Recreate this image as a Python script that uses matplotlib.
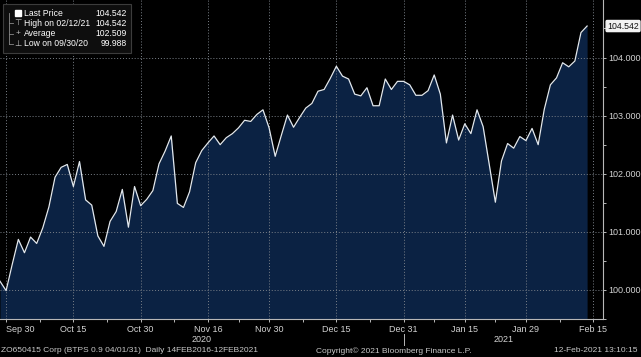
import matplotlib
matplotlib.use("Agg")
import matplotlib.pyplot as plt
from matplotlib import font_manager
from matplotlib.patches import Rectangle
from matplotlib.lines import Line2D
import numpy as np
import pandas as pd

# daily prices, BTPS 0.9 04/01/31, 29 Sep 2020 - 12 Feb 2021 (no Dec 25 / Jan 1)
prices = [100.15, 99.988, 100.44, 100.87, 100.64, 100.91, 100.80, 101.07, 101.43, 101.94,
          102.11, 102.16, 101.78, 102.21, 101.55, 101.46, 100.93, 100.75, 101.18, 101.35,
          101.73, 101.08, 101.78, 101.45, 101.56, 101.71, 102.17, 102.39, 102.65, 101.49,
          101.42, 101.69, 102.19, 102.40, 102.53, 102.65, 102.50, 102.62, 102.69, 102.79,
          102.92, 102.90, 103.02, 103.10, 102.79, 102.30, 102.66, 103.01, 102.80, 102.97,
          103.13, 103.21, 103.42, 103.45, 103.64, 103.85, 103.68, 103.63, 103.37, 103.34,
          103.48, 103.17, 103.17, 103.63, 103.45, 103.59, 103.59, 103.53, 103.35, 103.35,
          103.43, 103.70, 103.37, 102.53, 103.01, 102.58, 102.86, 102.69, 103.10, 102.81,
          102.16, 101.51, 102.22, 102.52, 102.44, 102.64, 102.57, 102.78, 102.50, 103.11,
          103.53, 103.65, 103.91, 103.84, 103.94, 104.43, 104.542]

holidays = ["2020-12-25", "2021-01-01"]
tick_dates = ["2020-09-30", "2020-10-15", "2020-10-30", "2020-11-16", "2020-11-30",
              "2020-12-15", "2020-12-31", "2021-01-15", "2021-01-29", "2021-02-15"]
tick_labels = ["Sep 30", "Oct 15", "Oct 30", "Nov 16", "Nov 30",
               "Dec 15", "Dec 31", "Jan 15", "Jan 29", "Feb 15"]
y_ticks = [100, 101, 102, 103, 104]

legend_rows = [("Last Price", "104.542"), ("High on 02/12/21", "104.542"),
               ("Average", "102.509"), ("Low on 09/30/20", "99.988")]

footer_left = "ZO650415 Corp (BTPS 0.9 04/01/31)  Daily 14FEB2016-12FEB2021"
footer_mid = "Copyright\u00a9 2021 Bloomberg Finance L.P."
footer_right = "12-Feb-2021 13:10:15"

# trading-day axis (Bloomberg skips weekends/holidays)
days = pd.bdate_range("2020-09-29", "2021-02-19")
days = days[~days.isin(pd.to_datetime(holidays))]
pos = {d.strftime("%Y-%m-%d"): i for i, d in enumerate(days)}
x = np.arange(len(prices))
tick_pos = [pos[d] for d in tick_dates]

names = {f.name for f in font_manager.fontManager.ttflist}
fam = "Liberation Sans Narrow" if "Liberation Sans Narrow" in names else "Liberation Sans"
plt.rcParams["font.family"] = [fam, "DejaVu Sans"]

W, H = 641, 357
fig = plt.figure(figsize=(W / 100, H / 100), dpi=100, facecolor="black")
ax = fig.add_axes([0, 38 / H, 603 / W, 319 / H])
ax.set_facecolor("black")

fill_c = "#0b2243"
ax.fill_between(x, prices, 99.0, color=fill_c, lw=0, zorder=1)
ax.plot(x, prices, color="#e2e8ee", lw=0.9, zorder=4)

ax.set_xlim(0, 98.6)
ax.set_ylim(99.63, 104.99)

grid_c = "#7a8088"
for t in tick_pos:
    ax.axvline(t, color=grid_c, lw=0.7, ls=(0, (1, 2)), zorder=3)
for v in y_ticks:
    ax.axhline(v, color=grid_c, lw=0.7, ls=(0, (1, 2)), zorder=3)

for s in ["top", "left"]:
    ax.spines[s].set_visible(False)
for s in ["bottom", "right"]:
    ax.spines[s].set_color("#b8b8b8")
    ax.spines[s].set_linewidth(0.8)

ax.yaxis.tick_right()
ax.set_yticks(y_ticks)
ax.set_yticklabels(["%.3f" % v for v in y_ticks])
ax.set_yticks(np.arange(99.5, 105, 1.0), minor=True)
ax.set_xticks(tick_pos)
ax.set_xticklabels(tick_labels)
ax.set_xticks([(a + b) / 2 for a, b in zip(tick_pos[:-1], tick_pos[1:])], minor=True)
ax.tick_params(axis="both", which="both", colors="#b8b8b8", labelcolor="#d2d2d2",
               labelsize=6.5, length=2.5, width=0.7, pad=1.5)
ax.xaxis.get_ticklabels()[0].set_horizontalalignment("left")

ax.annotate("104.542", xy=(1, prices[-1]), xycoords=("axes fraction", "data"),
            xytext=(3, 0), textcoords="offset points", ha="left", va="center",
            fontsize=6.3, color="#111111", annotation_clip=False,
            bbox=dict(boxstyle="round,pad=0.12", fc="#f2f2f2", ec="#f2f2f2"))


def fx(px):
    return px / W


def fy(py):
    return 1 - py / H


# year labels under the date ticks
x0 = ax.transData.transform((0, 0))[0]
sep = ax.transData.transform((pos["2020-12-31"], 0))[0]
x1 = ax.transData.transform((98.6, 0))[0]
fig.text(fx((x0 + sep) / 2), fy(340), "2020", color="#d2d2d2", fontsize=6.5, ha="center", va="center")
fig.text(fx((sep + x1) / 2), fy(340), "2021", color="#d2d2d2", fontsize=6.5, ha="center", va="center")
fig.add_artist(Line2D([fx(sep), fx(sep)], [fy(334), fy(345)], color="#b8b8b8", lw=0.7))

fig.text(fx(1), fy(351), footer_left, color="#c8c8c8", fontsize=6.0, ha="left", va="center")
fig.text(fx(394), fy(351), footer_mid, color="#c8c8c8", fontsize=6.0, ha="center", va="center")
fig.text(fx(638), fy(351), footer_right, color="#c8c8c8", fontsize=6.0, ha="right", va="center")

# legend box in the top-left corner
fig.add_artist(Rectangle((fx(3), fy(53)), fx(128), 49 / H, fc="#0e0e0e", ec="#3c3c3c", lw=0.8))
row_y = [13, 23, 34, 44]
fig.add_artist(Line2D([fx(9), fx(9)], [fy(13), fy(44)], color="#8a8a8a", lw=0.6))
for i, ((lab, val), ry) in enumerate(zip(legend_rows, row_y)):
    if i > 0:
        fig.add_artist(Line2D([fx(9), fx(13)], [fy(ry), fy(ry)], color="#8a8a8a", lw=0.6))
    fig.text(fx(24), fy(ry), lab, color="white", fontsize=6.2, ha="left", va="center")
    fig.text(fx(127), fy(ry), val, color="white", fontsize=6.2, ha="right", va="center")
fig.add_artist(Rectangle((fx(15), fy(16)), fx(6), 6 / H, fc="white", ec="white"))
fig.text(fx(18), fy(23), "\u22a4", color="#bbbbbb", fontsize=6, ha="center", va="center")
fig.text(fx(18), fy(34), "+", color="#bbbbbb", fontsize=6, ha="center", va="center")
fig.text(fx(18), fy(44), "\u22a5", color="#bbbbbb", fontsize=6, ha="center", va="center")

fig.savefig("out.png", dpi=100, facecolor="black")
